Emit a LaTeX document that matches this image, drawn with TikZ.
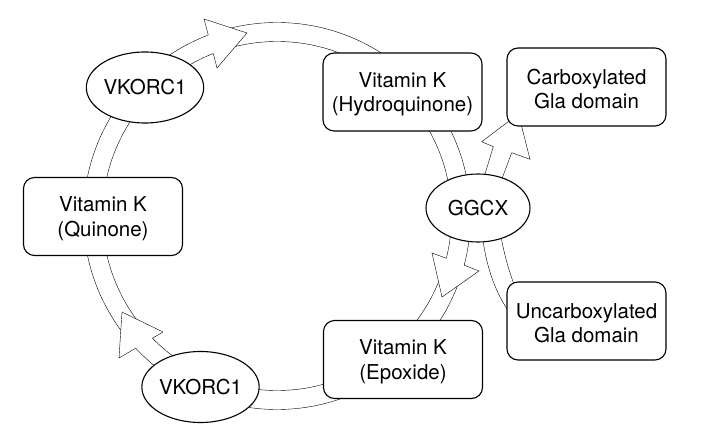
\documentclass[tikz,border=0pt]{standalone}
\usepackage{fontspec}
\setmainfont{TeX Gyre Heros}
\usetikzlibrary{shapes.geometric}
\pgfdeclarelayer{bg}
\pgfdeclarelayer{mid}
\pgfsetlayers{bg,mid,main}
\newcommand\mystrutx{\rule{0pt}{19pt}}
\begin{document}
\begin{tikzpicture}[x=1pt,y=-1pt,line width=1.1pt,line join=miter,
  box/.style={draw,fill=white,rounded corners=11pt,minimum width=159pt,minimum height=78pt,
    align=center,inner sep=0pt,font=\fontsize{20.5}{24.5}\selectfont},
  enz/.style={draw,fill=white,ellipse,minimum width=104pt,minimum height=71pt,
    inner sep=0pt,font=\fontsize{20.5}{24}\selectfont},
  headfill/.style={fill=white,draw=none}]
\useasboundingbox (0,0) rectangle (707,444);

% nodes
\node[box] (quin) at (103,216.5) {\mystrutx Vitamin K\\(Quinone)};
\node[box] (hydro) at (402.5,92) {\mystrutx Vitamin K\\(Hydroquinone)};
\node[box] (epox) at (403,359.5) {\mystrutx Vitamin K\\(Epoxide)};
\node[box] (carb) at (586.5,87) {\mystrutx Carboxylated\\Gla domain};
\node[box] (uncarb) at (586.5,321) {\mystrutx Uncarboxylated\\Gla domain};
\node[enz] (vktop) at (145,87.5) {VKORC1};
\node[enz] (vkbot) at (200.5,387) {VKORC1};
\node[enz,minimum height=68pt] (ggcx) at (478,208) {GGCX};

% ring band
\begin{pgfonlayer}{bg}
  \coordinate (O) at (277,216);
  \draw (O) circle[radius=174.5pt];
  \draw (O) circle[radius=193.5pt];
  % carboxylation shaft
  \draw (479.6,191.7) -- (493.3,146.7);
  \draw (496.6,192.8) -- (511.7,152.7);
  % uncarboxylated substrate band
  \draw (481,225) .. controls (485,265) and (495,295) .. (515,320);
  \draw (499,225) .. controls (503,250) and (508,270) .. (518,295);
\end{pgfonlayer}

% arrow heads
\begin{pgfonlayer}{mid}
  % top (VKORC1 -> Hydroquinone)
  \coordinate (t1) at (247,33);
  \fill[headfill] (204,19) -- (t1) -- (217,68) -- cycle;
  \draw (208.3,35.1) -- (204,19) -- (t1) -- (217,68) -- (213.3,53.5);
  % bottom left (VKORC1 -> Quinone)
  \coordinate (t2) at (122,312);
  \fill[headfill] (119,358) -- (t2) -- (163,332) -- cycle;
  \draw (135.7,348.2) -- (119,358) -- (t2) -- (163,332) -- (152.5,338.2);
  % GGCX -> Epoxide
  \coordinate (t3) at (442,297);
  \fill[headfill] (432,253) -- (t3) -- (479,271) -- cycle;
  \draw (446.4,258.3) -- (432,253) -- (t3) -- (479,271) -- (464.2,265.2);
  % GGCX -> Carboxylated
  \coordinate (t4) at (518.5,114);
  \fill[headfill] (481.7,141.7) -- (t4) -- (530,159.3) -- cycle;
  \draw (493.3,146.7) -- (481.7,141.7) -- (t4) -- (530,159.3) -- (511.7,152.7);
\end{pgfonlayer}
\end{tikzpicture}
\end{document}
